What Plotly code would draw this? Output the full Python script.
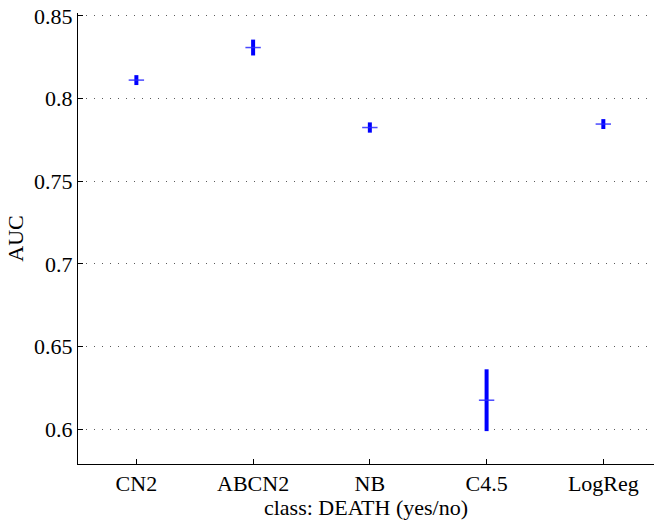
import plotly.graph_objects as go

categories = ["CN2", "ABCN2", "NB", "C4.5", "LogReg"]
auc_mean = [0.8112, 0.8309, 0.7825, 0.6175, 0.7846]
auc_err = [0.0030, 0.0048, 0.0031, 0.0187, 0.0030]
y_ticks = [0.6, 0.65, 0.7, 0.75, 0.8, 0.85]
y_tick_labels = ["0.6", "0.65", "0.7", "0.75", "0.8", "0.85"]

x_pos = list(range(1, len(categories) + 1))
blue = "rgb(0,0,255)"
font = "Liberation Serif, Times New Roman, serif"

fig = go.Figure()
fig.add_trace(go.Scatter(
    x=x_pos, y=auc_mean, mode="markers",
    error_y=dict(type="data", array=auc_err, visible=True, color=blue, thickness=4, width=0),
    marker=dict(symbol="line-ew", size=11, color=blue, line=dict(color="rgba(40,40,255,0.85)", width=1.5)),
    showlegend=False,
))

fig.update_layout(
    width=654, height=520,
    margin=dict(l=78, r=0, t=13, b=56, autoexpand=False),
    paper_bgcolor="white", plot_bgcolor="white",
    font=dict(family=font, size=22, color="black"),
    xaxis=dict(
        range=[0.5, 5.434], tickvals=x_pos, ticktext=categories,
        ticks="inside", ticklen=5, tickcolor="black", showgrid=False, zeroline=False,
        showline=True, linecolor="black", linewidth=1,
        title=dict(text="class: DEATH (yes/no)", standoff=2, font=dict(size=22)),
        automargin=False, ticklabeloverflow="allow",
    ),
    yaxis=dict(
        range=[0.5789, 0.8518], tickvals=y_ticks, ticktext=y_tick_labels,
        ticks="inside", ticklen=5, tickcolor="black", zeroline=False,
        showline=True, linecolor="black", linewidth=1,
        showgrid=True, gridcolor="rgb(90,90,90)", griddash="1px,7px", gridwidth=1,
        title=dict(text="AUC", standoff=4, font=dict(size=22)),
        automargin=False, ticklabeloverflow="allow",
    ),
)

fig.write_html(
    "out.html",
    config={"displayModeBar": False, "staticPlot": True},
    post_script="document.body.style.margin='0';",
)
